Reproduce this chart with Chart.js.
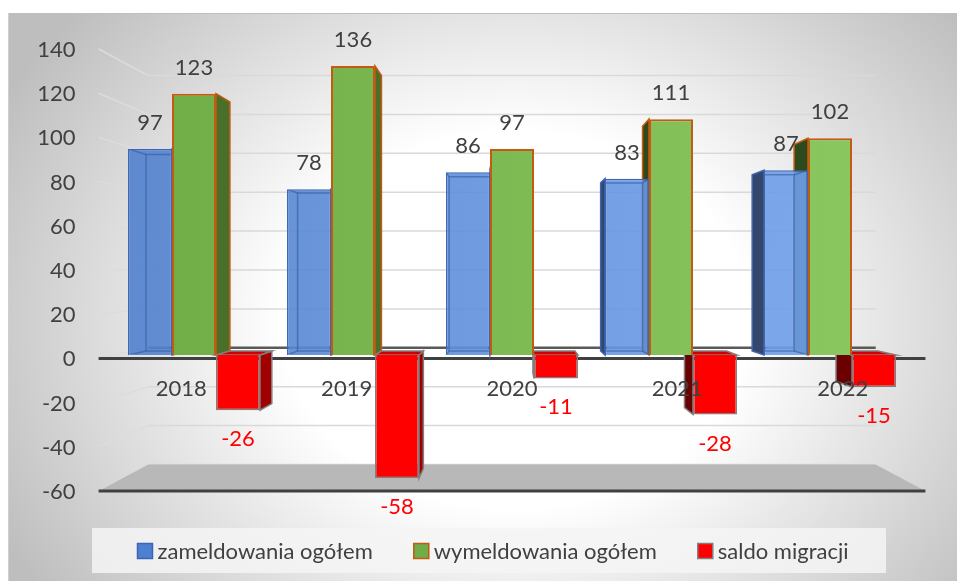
<!DOCTYPE html>
<html>
<head>
<meta charset="utf-8">
<script src="https://cdn.jsdelivr.net/npm/chart.js@4.4.0/dist/chart.umd.min.js"></script>
<style>
  html, body { margin: 0; padding: 0; background: #fff; }
  #wrap { width: 957px; height: 581px; }
</style>
</head>
<body>
<div id="wrap"><canvas id="chart" width="957" height="581"></canvas></div>
<script>
// dane
const years = ['2018', '2019', '2020', '2021', '2022'];
const zameldowania = [97, 78, 86, 83, 87];
const wymeldowania = [123, 136, 97, 111, 102];
const saldo = [-26, -58, -11, -28, -15];
const yTicks = [140, 120, 100, 80, 60, 40, 20, 0, -20, -40, -60];
const seriesNames = ['zameldowania ogółem', 'wymeldowania ogółem', 'saldo migracji'];

// pseudo 3D: skala perspektywy wzgledem plaszczyzny slupkow
const FRONT = 1.04, WALL = 0.915, DEPTH = 0.953;
const FONT = '22px Lato';
const TEXT = '#404040';
const sideRight = ['#2f5190', '#4a6f2a', '#a00000'];
const sideLeft = ['#34476b', '#2d4a1c', '#6b0000'];
const topFace = ['#3d66b0', '#5e923a', '#d00000'];

function hGrad(chart, c1, c2) {
    const a = chart.chartArea;
    if (!a) return c1;
    const g = chart.ctx.createLinearGradient(a.left, 0, a.right, 0);
    g.addColorStop(0, c1);
    g.addColorStop(1, c2);
    return g;
}

function vanish(chart) {
    const a = chart.chartArea;
    return { x: (a.left + a.right) / 2, y: chart.scales.y.getPixelForValue(40) };
}

function proj(v, x, y, s) {
    return [v.x + (x - v.x) * s, v.y + (y - v.y) * s];
}

function poly(ctx, pts, fill, stroke, lw) {
    ctx.beginPath();
    ctx.moveTo(pts[0][0], pts[0][1]);
    for (let i = 1; i < pts.length; i++) ctx.lineTo(pts[i][0], pts[i][1]);
    ctx.closePath();
    if (fill) { ctx.fillStyle = fill; ctx.fill(); }
    if (stroke) { ctx.strokeStyle = stroke; ctx.lineWidth = lw || 1; ctx.stroke(); }
}

function line(ctx, p1, p2, color, lw) {
    ctx.beginPath();
    ctx.moveTo(p1[0], p1[1]);
    ctx.lineTo(p2[0], p2[1]);
    ctx.strokeStyle = color;
    ctx.lineWidth = lw;
    ctx.stroke();
}

function barBox(bar) {
    const p = bar.getProps(['x', 'y', 'base', 'width'], true);
    return {
        cx: p.x,
        L: p.x - p.width / 2, R: p.x + p.width / 2,
        T: Math.min(p.y, p.base), B: Math.max(p.y, p.base)
    };
}

const fake3d = {
    id: 'fake3d',
    beforeDraw(chart) {
        const ctx = chart.ctx;
        ctx.save();
        // tlo z gradientem
        ctx.beginPath();
        ctx.rect(8, 13, 949, 568);
        ctx.clip();
        ctx.translate(515, 320);
        ctx.scale(580, 470);
        const g = ctx.createRadialGradient(0, 0, 0, 0, 0, 1);
        g.addColorStop(0, '#ffffff');
        g.addColorStop(0.4, '#ffffff');
        g.addColorStop(1, '#bebebe');
        ctx.fillStyle = g;
        ctx.fillRect(-2, -2, 4, 4);
        ctx.restore();
        ctx.save();
        line(ctx, [8, 13.5], [957, 13.5], '#bfbfbf', 1);
        line(ctx, [8.5, 13], [8.5, 581], '#cfcfcf', 1);
        ctx.restore();
    },
    beforeDatasetsDraw(chart) {
        const ctx = chart.ctx, a = chart.chartArea, ys = chart.scales.y;
        const v = vanish(chart);
        ctx.save();
        // linie siatki: sciana boczna i tylna
        yTicks.forEach(t => {
            const py = ys.getPixelForValue(t);
            const f = proj(v, a.left, py, FRONT);
            const b = proj(v, a.left, py, WALL);
            const br = proj(v, a.right, py, WALL);
            line(ctx, f, b, '#dcdcdc', 1.5);
            line(ctx, b, br, t === 0 ? '#595959' : '#d9d9d9', t === 0 ? 2.5 : 1.5);
        });
        // podloga
        const fy = ys.getPixelForValue(Math.min(...yTicks));
        poly(ctx, [proj(v, a.left, fy, FRONT), proj(v, a.right, fy, FRONT),
                   proj(v, a.right, fy, WALL), proj(v, a.left, fy, WALL)], '#b8b8b8');
        line(ctx, proj(v, a.left, fy, FRONT), proj(v, a.right, fy, FRONT), '#404040', 3);
        const zy = ys.getPixelForValue(0);
        line(ctx, proj(v, a.left, zy, FRONT), proj(v, a.right, zy, FRONT), '#404040', 3);

        // boki i wierzch slupkow
        chart.data.datasets.forEach((ds, i) => {
            chart.getDatasetMeta(i).data.forEach(bar => {
                const b = barBox(bar);
                let xe = null, col = null;
                if (b.R < v.x) { xe = b.R; col = sideRight[i]; }
                else if (b.L > v.x) { xe = b.L; col = sideLeft[i]; }
                if (xe !== null) {
                    poly(ctx, [[xe, b.T], proj(v, xe, b.T, DEPTH), proj(v, xe, b.B, DEPTH), [xe, b.B]],
                         col, ds.borderColor, 1.5);
                }
                if (b.T > v.y) {
                    poly(ctx, [[b.L, b.T], [b.R, b.T], proj(v, b.R, b.T, DEPTH), proj(v, b.L, b.T, DEPTH)],
                         topFace[i], ds.borderColor, 1.5);
                }
                if (b.B < v.y) {
                    poly(ctx, [[b.L, b.B], [b.R, b.B], proj(v, b.R, b.B, DEPTH), proj(v, b.L, b.B, DEPTH)],
                         topFace[i], ds.borderColor, 1.5);
                }
            });
        });
        ctx.restore();
    },
    afterDatasetDraw(chart, args) {
        // niebieskie slupki sa polprzezroczyste - widac tylne krawedzie
        if (args.index !== 0) return;
        const ctx = chart.ctx;
        const v = vanish(chart);
        ctx.save();
        args.meta.data.forEach(bar => {
            const b = barBox(bar);
            ctx.save();
            ctx.beginPath();
            ctx.rect(b.L + 1, b.T + 1, b.R - b.L - 2, b.B - b.T - 2);
            ctx.clip();
            const bl = proj(v, b.L, b.T, DEPTH), br = proj(v, b.R, b.T, DEPTH);
            const dl = proj(v, b.L, b.B, DEPTH), dr = proj(v, b.R, b.B, DEPTH);
            const c = 'rgba(47,85,151,0.55)';
            poly(ctx, [bl, br, dr, dl], null, c, 1.5);
            line(ctx, [b.L, b.T], bl, c, 1.5);
            line(ctx, [b.R, b.T], br, c, 1.5);
            line(ctx, [b.L, b.B], dl, c, 1.5);
            line(ctx, [b.R, b.B], dr, c, 1.5);
            ctx.restore();
        });
        ctx.restore();
    },
    afterDatasetsDraw(chart) {
        const ctx = chart.ctx, a = chart.chartArea, xs = chart.scales.x, ys = chart.scales.y;
        const v = vanish(chart);
        ctx.save();
        ctx.font = FONT;
        ctx.textBaseline = 'middle';

        // etykiety danych
        ctx.textAlign = 'center';
        chart.data.datasets.forEach((ds, i) => {
            chart.getDatasetMeta(i).data.forEach((bar, j) => {
                const b = barBox(bar);
                const val = ds.data[j];
                ctx.fillStyle = i === 2 ? '#ff0000' : TEXT;
                ctx.fillText(String(val), b.cx, val >= 0 ? b.T - 26 : b.B + 29);
            });
        });

        // os X
        ctx.fillStyle = TEXT;
        const zy = ys.getPixelForValue(0);
        years.forEach((yr, j) => {
            const p = proj(v, xs.getPixelForValue(j), zy, FRONT);
            ctx.fillText(yr, p[0], p[1] + 31);
        });

        // os Y
        ctx.textAlign = 'right';
        yTicks.forEach(t => {
            const p = proj(v, a.left, ys.getPixelForValue(t), FRONT);
            ctx.fillText(String(t), p[0] - 23, p[1] + 1);
        });
        ctx.restore();
    },
    afterDraw(chart) {
        // legenda
        const ctx = chart.ctx;
        ctx.save();
        ctx.fillStyle = 'rgba(244,244,244,0.85)';
        ctx.fillRect(92, 528, 794, 45);
        ctx.font = FONT;
        ctx.textBaseline = 'middle';
        ctx.textAlign = 'left';
        const box = 15, gapText = 5, gapItem = 41, cy = 551;
        const widths = seriesNames.map(n => box + gapText + ctx.measureText(n).width);
        const total = widths.reduce((s, w) => s + w, 0) + gapItem * (seriesNames.length - 1);
        let x = 493 - total / 2;
        chart.data.datasets.forEach((ds, i) => {
            ctx.fillStyle = ds.legendColor;
            ctx.fillRect(x, cy - 7.5, box, box);
            ctx.strokeStyle = ds.borderColor;
            ctx.lineWidth = 1.5;
            ctx.strokeRect(x, cy - 7.5, box, box);
            ctx.fillStyle = TEXT;
            ctx.fillText(seriesNames[i], x + box + gapText, cy + 1);
            x += widths[i] + gapItem;
        });
        ctx.restore();
    }
};

new Chart(document.getElementById('chart'), {
    type: 'bar',
    data: {
        labels: years,
        datasets: [
            {
                label: seriesNames[0],
                data: zameldowania,
                backgroundColor: c => hGrad(c.chart, 'rgba(80,128,206,0.9)', 'rgba(116,163,238,0.9)'),
                legendColor: '#4f7fd0',
                borderColor: '#3c66b4',
                borderWidth: 1.5
            },
            {
                label: seriesNames[1],
                data: wymeldowania,
                backgroundColor: c => hGrad(c.chart, '#6fac46', '#8cc960'),
                legendColor: '#70ad47',
                borderColor: '#c55a11',
                borderWidth: 2
            },
            {
                label: seriesNames[2],
                data: saldo,
                backgroundColor: '#ff0000',
                legendColor: '#ff0000',
                borderColor: '#7f7f7f',
                borderWidth: 1.5
            }
        ]
    },
    options: {
        responsive: false,
        animation: false,
        devicePixelRatio: 1,
        layout: { padding: { left: 114.5, right: 47.5, top: 57.5, bottom: 98.5 } },
        datasets: { bar: { barPercentage: 1, categoryPercentage: 0.83 } },
        plugins: {
            legend: { display: false },
            tooltip: { enabled: false }
        },
        scales: {
            x: { display: false },
            y: { display: false, min: -60, max: 140 }
        }
    },
    plugins: [fake3d]
});
</script>
</body>
</html>
